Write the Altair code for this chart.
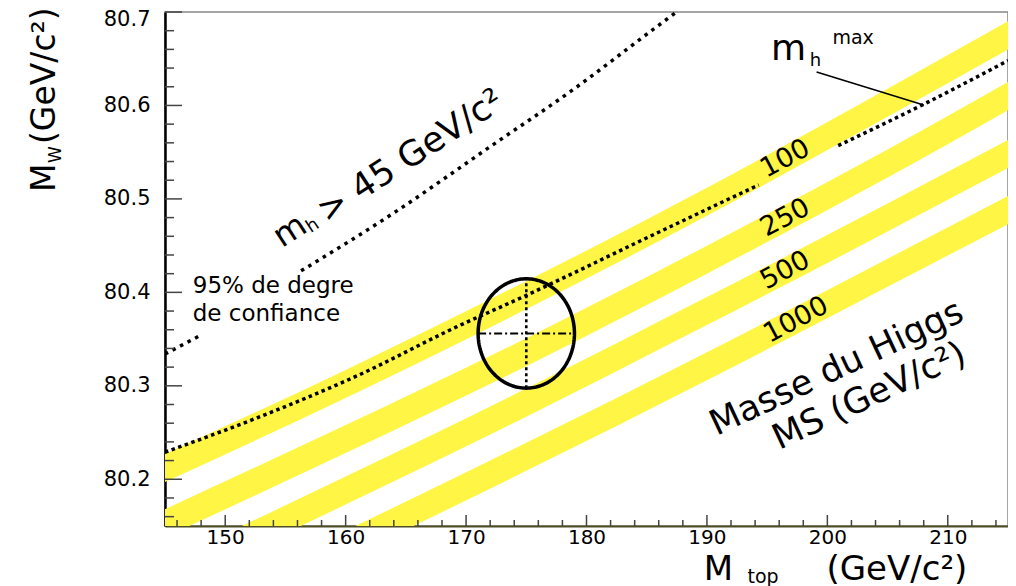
import altair as alt
import numpy as np
import pandas as pd

FONT = "DejaVu Sans"
YELLOW = "#fff544"

# ---------------- values ----------------
x_range = [145, 215]
y_range = [80.15, 80.7]
x_tick_labels = [150, 160, 170, 180, 190, 200, 210]
y_tick_labels = [80.2, 80.3, 80.4, 80.5, 80.6, 80.7]
x_minor_ticks = [v for v in range(146, 215, 2) if v % 10 != 0]
y_minor_ticks = [round(80.16 + 0.02 * i, 2) for i in range(27)]
y_minor_ticks = [v for v in y_minor_ticks if round(v * 10) != v * 10]

# Standard-model bands (centre of each yellow band, M_W vs M_top)
band_mtop = [145, 160, 175, 190, 205, 215]
band_100 = [80.212, 80.302, 80.397, 80.497, 80.603, 80.675]
band_250 = [80.153, 80.243, 80.336, 80.435, 80.538, 80.610]
band_500 = [80.096, 80.188, 80.282, 80.380, 80.480, 80.548]
band_1000 = [80.038, 80.130, 80.224, 80.321, 80.421, 80.488]
band_names = ["100", "250", "500", "1000"]
band_half_width = 0.015
band_label_mtop = [196.5, 196.5, 196.5, 197.4]

# m_h max dotted line (broken where the "100" label sits)
mhmax_mtop = [145, 152.7, 161, 169.2, 174.7, 185.6, 194.3, 200.9, 207.8, 215]
mhmax_mw = [80.229, 80.266, 80.311, 80.363, 80.395, 80.462, 80.515, 80.557, 80.600, 80.648]
mhmax_piece = [0, 0, 0, 0, 0, 0, 0, 1, 1, 1]

# m_h > 45 GeV dotted line (broken around the CL text)
mh45_mtop = [145, 147.8, 156.3, 164, 171.9, 179, 185.6, 188]
mh45_mw = [80.334, 80.353, 80.423, 80.485, 80.555, 80.618, 80.682, 80.705]
mh45_piece = [0, 0, 1, 1, 1, 1, 1, 1]

# measurement and 95% CL ellipse
meas_mtop = 175.0
meas_mw = 80.356
cl_dmtop = 4.0
cl_dmw = 0.0585

# ---------------- helpers ----------------
W, H = 843, 514
X0, Y0 = 165, 12  # page position of the plot origin
XS = 850 / 70.0   # reference pixels per GeV along x (used to convert measured text positions)


def px_x(p):
    return x_range[0] + (p - X0) / XS


def px_y(p):
    return y_range[1] - (p - Y0) * (y_range[1] - y_range[0]) / H


xs = alt.Scale(domain=x_range, nice=False, zero=False)
ys = alt.Scale(domain=y_range, nice=False, zero=False)
x_axis = alt.Axis(values=x_tick_labels, format="d", title=None, ticks=False, grid=False,
                  labelFont=FONT, labelFontSize=20, labelColor="black", labelPadding=1,
                  domainColor="#4d4d26", domainWidth=2)
y_axis = alt.Axis(values=y_tick_labels, format=".1f", title=None, ticks=False, grid=False,
                  labelFont=FONT, labelFontSize=21, labelColor="black", labelPadding=15,
                  labelFlush=True, labelFlushOffset=4,
                  domainColor="black", domainWidth=2.5)


def X(field="x"):
    return alt.X(f"{field}:Q", scale=xs, axis=x_axis)


def Y(field="y"):
    return alt.Y(f"{field}:Q", scale=ys, axis=y_axis)


# ---------------- bands ----------------
rows = []
for name, centres in zip(band_names, [band_100, band_250, band_500, band_1000]):
    for xv, c in zip(band_mtop, centres):
        rows.append({"x": xv, "lo": c - band_half_width, "hi": c + band_half_width, "band": name})
band_df = pd.DataFrame(rows)
bands = alt.Chart(band_df).mark_area(color=YELLOW, interpolate="monotone", clip=True, opacity=1).encode(
    x=X(), y=Y("lo"), y2="hi:Q", detail="band:N")

# ---------------- dotted lines ----------------
mhmax_df = pd.DataFrame({"x": mhmax_mtop, "y": mhmax_mw, "piece": mhmax_piece})
mhmax = alt.Chart(mhmax_df).mark_line(color="black", strokeWidth=3.5, strokeDash=[3.5, 3.5], strokeCap="butt",
                                      interpolate="monotone", clip=True).encode(
    x=X(), y=Y(), detail="piece:N")

mh45_df = pd.DataFrame({"x": mh45_mtop, "y": mh45_mw, "piece": mh45_piece})
mh45 = alt.Chart(mh45_df).mark_line(color="black", strokeWidth=3.5, strokeDash=[3.5, 5], strokeCap="butt",
                                    interpolate="monotone", clip=True).encode(
    x=X(), y=Y(), detail="piece:N")

# ---------------- ellipse + cross ----------------
t = np.linspace(0, 2 * np.pi, 181)
ell_df = pd.DataFrame({"x": meas_mtop + cl_dmtop * np.cos(t), "y": meas_mw + cl_dmw * np.sin(t),
                       "i": np.arange(len(t))})
ellipse = alt.Chart(ell_df).mark_line(color="black", strokeWidth=3.5).encode(
    x=X(), y=Y(), order="i:Q")

hbar = alt.Chart(pd.DataFrame({"x": [meas_mtop - cl_dmtop], "x2": [meas_mtop + cl_dmtop], "y": [meas_mw]})).mark_rule(
    color="black", strokeWidth=1.8, strokeDash=[8, 3, 2, 3]).encode(x=X(), x2="x2:Q", y=Y())
vbar = alt.Chart(pd.DataFrame({"x": [meas_mtop], "y": [meas_mw - cl_dmw], "y2": [meas_mw + cl_dmw]})).mark_rule(
    color="black", strokeWidth=2.6, strokeDash=[3, 3]).encode(x=X(), y=Y(), y2="y2:Q")

# pointer for m_h max label
pointer = alt.Chart(pd.DataFrame({"x": [px_x(822)], "x2": [px_x(930)], "y": [px_y(72)], "y2": [px_y(105)]})).mark_rule(
    color="black", strokeWidth=1.5).encode(x=X(), x2="x2:Q", y=Y(), y2="y2:Q")

# ---------------- inner ticks ----------------
tick_col = "#444444"
y_major = alt.Chart(pd.DataFrame({"y": y_tick_labels})).mark_rule(color=tick_col, strokeWidth=1.5).encode(
    y=Y(), x=alt.value(0), x2=alt.value(17))
y_minor = alt.Chart(pd.DataFrame({"y": y_minor_ticks})).mark_rule(color=tick_col, strokeWidth=1.5).encode(
    y=Y(), x=alt.value(0), x2=alt.value(9))
x_major = alt.Chart(pd.DataFrame({"x": x_tick_labels})).mark_rule(color=tick_col, strokeWidth=1.5).encode(
    x=X(), y=alt.value(H), y2=alt.value(H - 11))
x_minor = alt.Chart(pd.DataFrame({"x": x_minor_ticks})).mark_rule(color=tick_col, strokeWidth=1.5).encode(
    x=X(), y=alt.value(H), y2=alt.value(H - 6))


# ---------------- texts ----------------
def label(xv, yv, text, size, angle=0, align="left", baseline="alphabetic"):
    df = pd.DataFrame({"x": [xv], "y": [yv], "t": [text]})
    return alt.Chart(df).mark_text(font=FONT, fontSize=size, angle=angle, align=align, baseline=baseline,
                                   color="black").encode(x=X(), y=Y(), text="t:N")


texts = [
    label(px_x(193), px_y(293), "95% de degre", 23),
    label(px_x(193), px_y(321), "de confiance", 23),
    # m_h^max
    label(px_x(776), px_y(60), "m", 36),
    label(px_x(815), px_y(66), "h", 18),
    label(px_x(838), px_y(44), "max", 19),
    # m_h > 45 GeV/c2 (rotated)
    label(px_x(291), px_y(231), "m", 33, 327, "center", "middle"),
    label(px_x(314), px_y(226), "h", 18, 327, "center", "middle"),
    label(px_x(322), px_y(214), "> 45 GeV/c²", 35, 327, "left", "middle"),
    # Higgs mass caption
    label(px_x(842), px_y(368), "Masse du Higgs", 35, 335, "center", "middle"),
    label(px_x(875), px_y(396), "MS (GeV/c²)", 35, 335, "center", "middle"),
    # y title (rotated)
    label(px_x(54), px_y(192), "M", 33, 270),
    label(px_x(60), px_y(163), "W", 17, 270),
    label(px_x(54), px_y(144), "(GeV/c²)", 33, 270),
    # x title
    label(px_x(723), px_y(580), "M", 34, 0, "center"),
    label(px_x(768), px_y(583), "top", 19, 0, "center"),
    label(px_x(903), px_y(580), "(GeV/c²)", 34, 0, "center"),
]

for name, centres, lx in zip(band_names, [band_100, band_250, band_500, band_1000], band_label_mtop):
    texts.append(label(lx, float(np.interp(lx, band_mtop, centres)), name, 27, 332, "center", "middle"))

chart = alt.layer(
    bands, mh45, mhmax, ellipse, hbar, vbar, pointer,
    y_major, y_minor, x_major, x_minor, *texts
).properties(
    width=W, height=H,
    padding={"left": 157, "top": 4, "right": 0, "bottom": 62},
    autosize=alt.AutoSizeParams(type="none"),
    background="white",
).configure_view(stroke="#888888", strokeWidth=1.5)

chart.save("out.html", embed_options={"renderer": "svg", "actions": False})
